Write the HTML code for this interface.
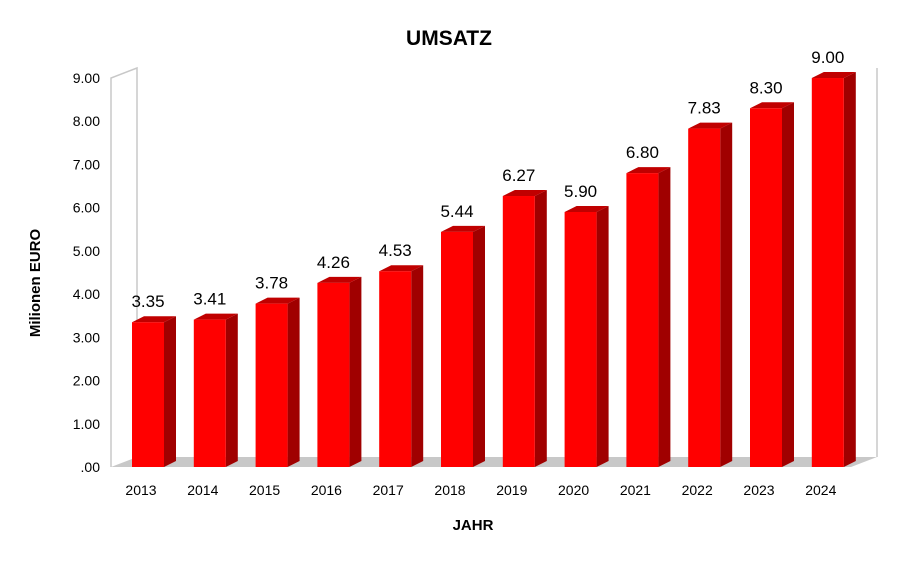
<!DOCTYPE html>
<html><head><meta charset="utf-8"><style>
body{margin:0;background:#fff;font-family:"Liberation Sans",sans-serif}
</style></head><body>
<svg width="899" height="556" viewBox="0 0 899 556">
<text x="449" y="45" text-anchor="middle" font-size="21" font-weight="bold">UMSATZ</text>
<polygon points="111,467 137,457 877,457 851,467" fill="#c8c8c8"/>
<polyline points="111,467 111,78 137,68 137,457" fill="none" stroke="#c8c8c8" stroke-width="1.5"/>
<line x1="877" y1="68" x2="877" y2="457" stroke="#c8c8c8" stroke-width="1.5"/>
<g id="yt"></g><g id="bars"></g>
<text x="0" y="0" transform="translate(40,283) rotate(-90)" text-anchor="middle" font-size="15" font-weight="bold">Milionen EURO</text>
<text x="473" y="530" text-anchor="middle" font-size="15" font-weight="bold">JAHR</text>
</svg>
<script>
const categories=["2013","2014","2015","2016","2017","2018","2019","2020","2021","2022","2023","2024"];
const values=[3.35,3.41,3.78,4.26,4.53,5.44,6.27,5.90,6.80,7.83,8.30,9.00];
const yTicks=[0,1,2,3,4,5,6,7,8,9];
const NS="http://www.w3.org/2000/svg";
const y0=467,scale=43.22;
const yPos=v=>y0-v*scale;
const xPos=i=>132+i*61.8;
function mk(t,a,p){const e=document.createElementNS(NS,t);for(const k in a)e.setAttribute(k,a[k]);p.appendChild(e);return e;}
const yt=document.getElementById('yt');
yTicks.forEach(v=>{const t=mk('text',{x:100,y:yPos(v)+5,'text-anchor':'end','font-size':14},yt);


t.textContent=v===0?'.00':v.toFixed(2);});
const bg=document.getElementById('bars');
values.forEach((v,i)=>{const x=xPos(i),y=yPos(v),w=32,dx=12,dy=6;
const g=mk('g',{},bg);


mk('polygon',{points:`${x+w},${y} ${x+w+dx},${y-dy} ${x+w+dx},${y0-dy} ${x+w},${y0}`,fill:'#a00000'},g);
mk('polygon',{points:`${x},${y} ${x+dx},${y-dy} ${x+w+dx},${y-dy} ${x+w},${y}`,fill:'#c00000'},g);
mk('rect',{x:x,y:y,width:w,height:y0-y,fill:'#ff0000'},g);
const l=mk('text',{x:x+w/2,y:y-15,'text-anchor':'middle','font-size':17},bg);


l.textContent=v.toFixed(2);
const c=mk('text',{x:x+9,y:495,'text-anchor':'middle','font-size':14},bg);


c.textContent=categories[i];});
</script>
</body></html>
